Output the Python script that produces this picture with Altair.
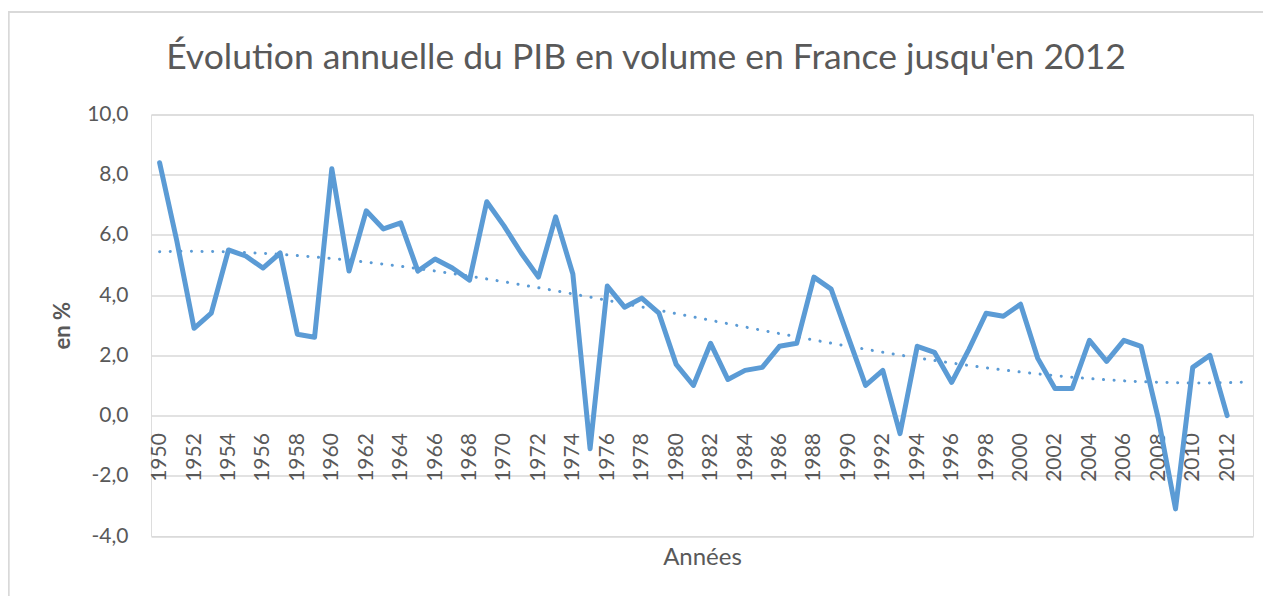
import altair as alt
import pandas as pd

# Data (annual GDP volume growth, France, %)
years = list(range(1950, 2013))
growth = [8.4, 5.8, 2.9, 3.4, 5.5, 5.3, 4.9, 5.4, 2.7, 2.6,
          8.2, 4.8, 6.8, 6.2, 6.4, 4.8, 5.2, 4.9, 4.5, 7.1,
          6.3, 5.4, 4.6, 6.6, 4.7, -1.1, 4.3, 3.6, 3.9, 3.4,
          1.7, 1.0, 2.4, 1.2, 1.5, 1.6, 2.3, 2.4, 4.6, 4.2,
          2.6, 1.0, 1.5, -0.6, 2.3, 2.1, 1.1, 2.2, 3.4, 3.3,
          3.7, 1.9, 0.9, 0.9, 2.5, 1.8, 2.5, 2.3, -0.1, -3.1,
          1.6, 2.0, 0.0]
year_ticks = list(range(1950, 2013, 2))
y_ticks = [-4, -2, 0, 2, 4, 6, 8, 10]

title_text = "Évolution annuelle du PIB en volume en France jusqu'en 2012"

df = pd.DataFrame({"annee": years, "pib": growth})

GREY = "#595959"
BLUE = "#5B9BD5"
FRAME = "#d9d9d9"
FONT = "Lato"

W = 1102
H = 421.5
PAD_L, PAD_T, PAD_R, PAD_B = 143, 106.5, 10, 60

x_enc = alt.X(
    "annee:Q",
    scale=alt.Scale(domain=[1949.5, 2013.5], nice=False, zero=False),
    axis=alt.Axis(
        values=year_ticks, tickCount=64, format="d", labelAngle=270,
        grid=False, ticks=False, tickSize=0, domain=False, labelPadding=17,
        offset=-120.4, labelFont=FONT, labelFontSize=21, labelColor=GREY,
        labelOverlap=False,
        title="Années", titleFont=FONT, titleFontSize=24,
        titleFontWeight="normal", titleColor=GREY,
        titleX=W / 2, titleY=142, titleAlign="center", titleBaseline="middle",
    ),
)
y_enc = alt.Y(
    "pib:Q",
    scale=alt.Scale(domain=[-4, 10], nice=False, zero=False),
    axis=alt.Axis(
        values=y_ticks, tickCount=20,
        labelExpr="replace(replace(format(datum.value, '.1f'), '.', ','), '\u2212', '-')",
        grid=True, gridColor="#d9d9d9", gridWidth=1.5,
        ticks=False, tickSize=0, domain=False, labelPadding=23,
        labelFont=FONT, labelFontSize=21, labelColor=GREY,
        title="en %", titleFont=FONT, titleFontSize=22, titleFontWeight="bold",
        titleColor=GREY, titleAngle=270, titleX=-89, titleY=H / 2,
        titleAlign="center", titleBaseline="middle",
    ),
)

line = alt.Chart(df).mark_line(
    color=BLUE, strokeWidth=5, strokeJoin="round", strokeCap="round"
).encode(x=x_enc, y=y_enc)

trend = alt.Chart(df).transform_regression(
    "annee", "pib", method="poly", order=3, extent=[1950, 2013]
).mark_line(
    color=BLUE, strokeWidth=3, strokeDash=[0.1, 10.5], strokeCap="round"
).encode(x="annee:Q", y="pib:Q")

# light chart-area border (top and left edges visible in the reference)
frame_top = alt.Chart(alt.Data(values=[{}])).mark_rule(
    color=FRAME, strokeWidth=2
).encode(x=alt.value(-PAD_L), x2=alt.value(W + PAD_R), y=alt.value(-102.5))
frame_left = alt.Chart(alt.Data(values=[{}])).mark_rule(
    color=FRAME, strokeWidth=2
).encode(x=alt.value(-142.3), y=alt.value(-102.5), y2=alt.value(H + PAD_B))

chart = alt.layer(frame_top, frame_left, line, trend).properties(
    width=W,
    height=H,
    autosize=alt.AutoSizeParams(type="none"),
    padding={"left": PAD_L, "top": PAD_T, "right": PAD_R, "bottom": PAD_B},
    title=alt.TitleParams(
        text=title_text, font=FONT, fontSize=35.5, fontWeight="normal",
        color=GREY, anchor="middle", frame="group", dx=-56, offset=-93.5,
        baseline="alphabetic",
    ),
).configure_view(stroke=None).configure(background="white")

chart.save("out.html", embed_options={"renderer": "svg", "actions": False})
